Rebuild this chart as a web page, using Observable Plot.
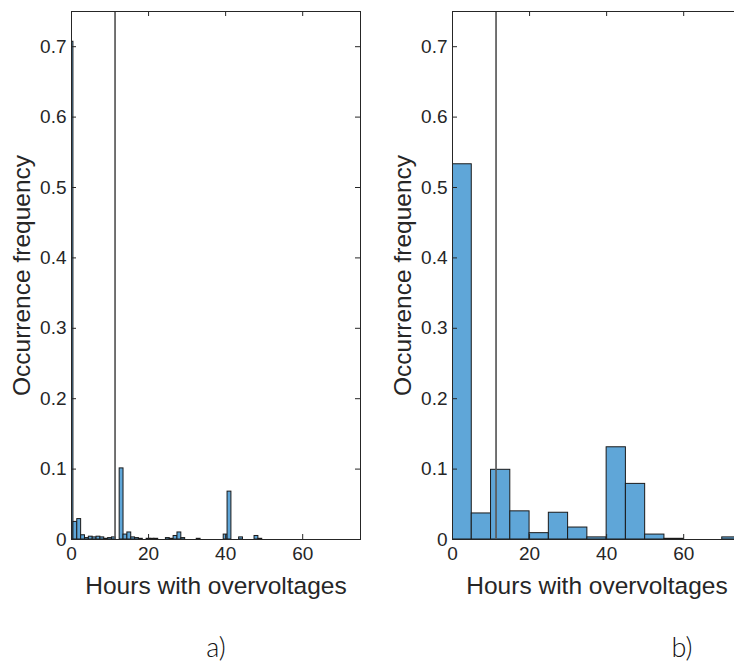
<!DOCTYPE html>
<html><head><meta charset="utf-8">
<script src="https://cdn.jsdelivr.net/npm/d3@7"></script>
<script src="https://cdn.jsdelivr.net/npm/@observablehq/plot@0.6"></script>
<style>
html,body{margin:0;padding:0;background:#fff;overflow:hidden;width:734px;height:664px;}
#wrap{position:relative;width:734px;height:664px;overflow:hidden;}
.panel{position:absolute;top:0;}
</style></head><body><div id="wrap"></div>
<script>
// Panel a: 1-hour bins centred on integer hours
const hoursA = [0,1,2,3,4,5,6,7,8,9,10,11,12,13,14,15,16,17,18,19,20,21,22,23,24,25,26,27,28,29,30,31,32,33,34,35,36,37,38,39,40,41,42,43,44,45,46,47,48,49];
const freqA  = [0.707,0.025,0.029,0.006,0.002,0.004,0.003,0.004,0.003,0.001,0.002,0.003,0,0.101,0.007,0.010,0.003,0.002,0.001,0,0.001,0.001,0.001,0,0,0.002,0.001,0.005,0.010,0.002,0,0,0,0.001,0,0,0,0,0,0,0.007,0.068,0,0,0.003,0,0,0,0.005,0.001];
// Panel b: 5-hour bins
const binStartB = [0,5,10,15,20,25,30,35,40,45,50,55,60,65,70];
const freqB     = [0.533,0.037,0.099,0.040,0.009,0.038,0.017,0.003,0.131,0.079,0.007,0.001,0,0,0.003];
const binWidthA = 1;
const binWidthB = 5;
const threshold = 11.3;
const xTicks = [0,20,40,60];
const yTicks = [0,0.1,0.2,0.3,0.4,0.5,0.6,0.7];
const xDomain = [0,75];
const yDomain = [0,0.75];
const xLabel = "Hours with overvoltages";
const yLabel = "Occurrence frequency";
const panelLabels = ["a)","b)"];

const binsA = hoursA.map((h,i)=>({x1:h-binWidthA/2, x2:h+binWidthA/2, y:freqA[i]})).filter(d=>d.y>0);
const binsB = binStartB.map((s,i)=>({x1:s, x2:s+binWidthB, y:freqB[i]})).filter(d=>d.y>0);

const W = 366, H = 664, mL = 71, mR = 6, mT = 11, mB = 125;
const pw = W - mL - mR, ph = H - mT - mB;
const axisCol = "#262626";

function panel(bins, label, labelDx){
  return Plot.plot({
    width: W, height: H,
    marginLeft: mL, marginRight: mR, marginTop: mT, marginBottom: mB,
    x: {domain: xDomain},
    y: {domain: yDomain},
    style: {fontFamily: "'Liberation Sans', Arial, sans-serif", fontSize: "19px", color: axisCol, background: "transparent", overflow: "visible"},
    marks: [
      Plot.rectY(bins, {x1: "x1", x2: "x2", y: "y", fill: "#5fa6d8", stroke: "#1a1a1a", strokeWidth: 1, clip: true}),
      Plot.ruleX([threshold], {stroke: "#5a5a5a", strokeWidth: 1.7}),
      Plot.tickX(xTicks, {x: d=>d, insetTop: ph-5, stroke: axisCol}),
      Plot.tickX(xTicks, {x: d=>d, insetBottom: ph-5, stroke: axisCol}),
      Plot.tickY(yTicks, {y: d=>d, insetRight: pw-5, stroke: axisCol}),
      Plot.tickY(yTicks, {y: d=>d, insetLeft: pw-5, stroke: axisCol}),
      Plot.frame({stroke: axisCol}),
      Plot.axisX(xTicks, {tickSize: 0, tickPadding: 7, fontSize: 19, label: null, fill: axisCol}),
      Plot.axisY(yTicks, {tickSize: 0, tickPadding: 5, fontSize: 19, label: null, fill: axisCol, tickFormat: d=>String(d)}),
      Plot.text([xLabel], {text: d=>d, frameAnchor: "bottom", dy: 47, fontSize: 24.5, textAnchor: "middle", lineAnchor: "middle", fill: axisCol}),
      Plot.text([yLabel], {text: d=>d, frameAnchor: "left", dx: -49, rotate: -90, fontSize: 24.5, textAnchor: "middle", lineAnchor: "middle", fill: axisCol}),
      Plot.text([label], {text: d=>d, frameAnchor: "bottom", dx: labelDx, dy: 109, fontSize: 27, textAnchor: "middle", lineAnchor: "middle", fontFamily: "Lato, 'DejaVu Sans', sans-serif", fontWeight: 300, fill: "#111"})
    ]
  });
}

const wrap = document.getElementById("wrap");
const a = panel(binsA, panelLabels[0], 0);
a.classList.add("panel"); a.style.left = "0px";
const b = panel(binsB, panelLabels[1], 85);
b.classList.add("panel"); b.style.left = "381px";
wrap.appendChild(a);
wrap.appendChild(b);
</script>
</body></html>
